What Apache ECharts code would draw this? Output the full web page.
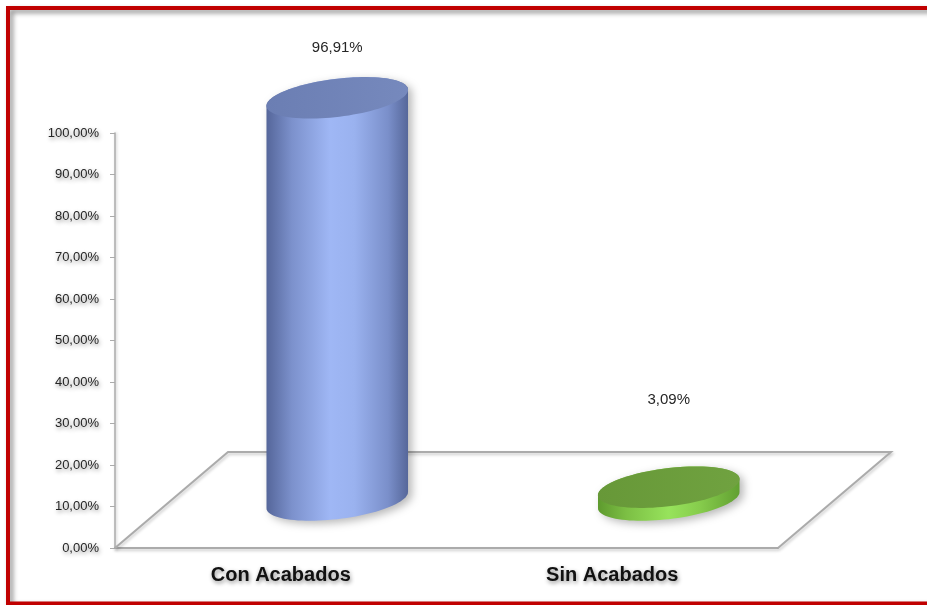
<!DOCTYPE html>
<html>
<head>
<meta charset="utf-8">
<style>
  html, body { margin: 0; padding: 0; background: #ffffff; }
  #chart { width: 927px; height: 605px; }
</style>
<script src="https://cdn.jsdelivr.net/npm/echarts@6/dist/echarts.min.js"></script>
</head>
<body>
<div id="chart"></div>
<script>
// Share of units with and without finishes
const categories = ['Con Acabados', 'Sin Acabados'];
const values = [96.91, 3.09];
const yTickLabels = ['0,00%', '10,00%', '20,00%', '30,00%', '40,00%', '50,00%',
                     '60,00%', '70,00%', '80,00%', '90,00%', '100,00%'];

// Oblique depth of the floor (pixels) and cylinder look
const DEPTH_X = 113;
const DEPTH_Y = -96;
const TILT = -7 * Math.PI / 180;
const ELLIPSE_B = 19;
const labelLift = [50, 87];

const palettes = [
  {
    side: [[0, '#55669a'], [0.18, '#7c91cc'], [0.45, '#9fb7f5'], [0.62, '#9ab2ef'], [0.86, '#7a8fca'], [1, '#56679a']],
    top: [[0, '#6b7eb3'], [1, '#7689bd']]
  },
  {
    side: [[0, '#5e9a2e'], [0.2, '#7cbf44'], [0.5, '#97e35c'], [0.72, '#86cc4c'], [1, '#62a032']],
    top: [[0, '#679838'], [1, '#70a240']]
  }
];

const shadowText = {
  textShadowColor: 'rgba(0,0,0,0.45)',
  textShadowBlur: 4,
  textShadowOffsetX: 1,
  textShadowOffsetY: 2
};

function ellipsePoint(cx, cy, a, b, t) {
  const c = Math.cos(TILT), s = Math.sin(TILT);
  return [
    cx + a * Math.cos(t) * c - b * Math.sin(t) * s,
    cy + a * Math.cos(t) * s + b * Math.sin(t) * c
  ];
}

function renderCylinder(params, api) {
  const idx = params.dataIndex;
  const i = api.value(0);
  const v = api.value(1);
  const topPt = api.coord([i, v]);
  const basePt = api.coord([i, 0]);
  const band = api.size([1, 0])[0];
  const a = band * 0.215;
  const b = ELLIPSE_B;
  const cx = basePt[0] + DEPTH_X / 2;
  const by = basePt[1] + DEPTH_Y / 2;
  const ty = topPt[1] + DEPTH_Y / 2;
  // parameter of the rightmost silhouette point
  const t0 = Math.atan2(-b * Math.sin(TILT), a * Math.cos(TILT));
  const N = 48;
  const side = [];
  for (let k = 0; k <= N; k++) side.push(ellipsePoint(cx, ty, a, b, t0 + Math.PI + Math.PI * k / N));
  for (let k = 0; k <= N; k++) side.push(ellipsePoint(cx, by, a, b, t0 + Math.PI * k / N));
  const cap = [];
  for (let k = 0; k < 96; k++) cap.push(ellipsePoint(cx, ty, a, b, 2 * Math.PI * k / 96));
  const pal = palettes[idx];
  const label = v.toFixed(2).replace('.', ',') + '%';
  return {
    type: 'group',
    children: [
      {
        type: 'polygon',
        shape: { points: side },
        style: {
          fill: { type: 'linear', x: 0, y: 0, x2: 1, y2: 0, colorStops: pal.side.map(s => ({ offset: s[0], color: s[1] })) },
          shadowColor: 'rgba(0,0,0,0.28)',
          shadowBlur: 8,
          shadowOffsetX: 4,
          shadowOffsetY: 3
        }
      },
      {
        type: 'polygon',
        shape: { points: cap },
        style: {
          fill: { type: 'linear', x: 0, y: 0, x2: 1, y2: 0, colorStops: pal.top.map(s => ({ offset: s[0], color: s[1] })) }
        }
      },
      {
        type: 'text',
        x: cx,
        y: ty - labelLift[idx],
        style: {
          text: label,
          fill: '#262626',
          font: '15px "Liberation Sans", Arial, sans-serif',
          align: 'center',
          verticalAlign: 'middle',
          shadowColor: 'rgba(0,0,0,0.45)',
          shadowBlur: 4,
          shadowOffsetX: 1,
          shadowOffsetY: 2
        }
      }
    ]
  };
}

function renderFloor(params) {
  const cs = params.coordSys;
  const x0 = cs.x, x1 = cs.x + cs.width, y0 = cs.y + cs.height;
  return {
    type: 'polyline',
    shape: {
      points: [[x0, y0], [x0 + DEPTH_X, y0 + DEPTH_Y], [x1 + DEPTH_X, y0 + DEPTH_Y], [x1, y0]]
    },
    style: {
      stroke: '#ababab',
      lineWidth: 2,
      fill: null,
      shadowColor: 'rgba(0,0,0,0.22)',
      shadowBlur: 3,
      shadowOffsetX: 1,
      shadowOffsetY: 2
    }
  };
}

const chart = echarts.init(document.getElementById('chart'), null, { renderer: 'canvas' });

chart.setOption({
  backgroundColor: '#ffffff',
  animation: false,
  graphic: [
    {
      type: 'rect',
      shape: { x: 8, y: 8, width: 1000, height: 595.5 },
      style: {
        fill: null,
        stroke: '#c00000',
        lineWidth: 4,
        shadowColor: 'rgba(0,0,0,0.45)',
        shadowBlur: 5,
        shadowOffsetX: 3,
        shadowOffsetY: 3
      },
      z: 100
    }
  ],
  grid: { left: 115, right: 149, top: 133, bottom: 57 },
  xAxis: {
    type: 'category',
    data: categories,
    axisLine: {
      lineStyle: { color: '#ababab', width: 2, shadowColor: 'rgba(0,0,0,0.22)', shadowBlur: 3, shadowOffsetY: 2 }
    },
    axisTick: { length: 8, lineStyle: { color: '#ababab', width: 1.5 } },
    axisLabel: Object.assign({
      margin: 17,
      color: '#111111',
      fontFamily: '"Liberation Sans", Arial, sans-serif',
      fontWeight: 'bold',
      fontSize: 20
    }, shadowText),
    splitLine: { show: false }
  },
  yAxis: {
    type: 'value',
    min: 0,
    max: 100,
    interval: 10,
    axisLine: {
      show: true,
      lineStyle: { color: '#ababab', width: 1.5, shadowColor: 'rgba(0,0,0,0.22)', shadowBlur: 3, shadowOffsetX: 1 }
    },
    axisTick: { show: true, length: 5, lineStyle: { color: '#ababab' } },
    axisLabel: Object.assign({
      margin: 16,
      color: '#262626',
      fontFamily: '"Liberation Sans", Arial, sans-serif',
      fontSize: 13,
      formatter: (val) => yTickLabels[Math.round(val / 10)]
    }, shadowText),
    splitLine: { show: false }
  },
  series: [
    {
      type: 'custom',
      name: 'floor',
      renderItem: renderFloor,
      data: [[0, 0]],
      clip: false,
      silent: true,
      z: 1
    },
    {
      type: 'custom',
      name: 'Acabados',
      renderItem: renderCylinder,
      data: values.map((v, i) => [i, v]),
      clip: false,
      z: 5
    }
  ]
});
</script>
</body>
</html>
